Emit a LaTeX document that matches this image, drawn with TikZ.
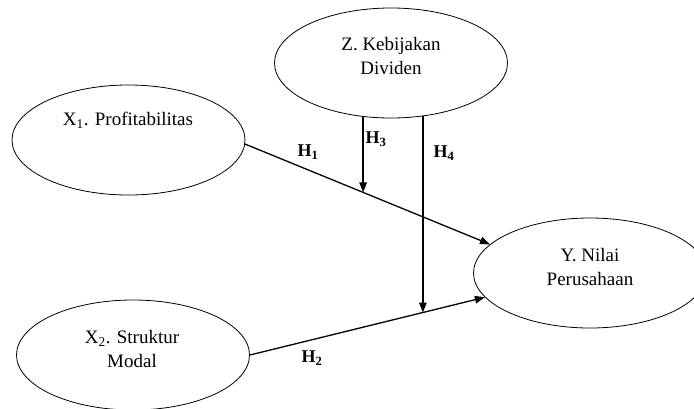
\documentclass[tikz,border=0pt]{standalone}
\usepackage{fontspec}
\setmainfont{Liberation Serif}
\usetikzlibrary{shapes.geometric,arrows.meta,calc}
\begin{document}
\begin{tikzpicture}[x=1pt,y=-1pt,
  ell/.style={draw,ellipse,line width=0.8pt,minimum width=233pt,minimum height=110pt,inner sep=0pt,fill=white},
  txt/.style={font=\fontsize{19}{24}\selectfont,align=center,inner sep=0pt},
  hlab/.style={font=\fontsize{18}{22}\selectfont\bfseries,inner sep=0pt},
  conn/.style={line width=1.3pt,-{Triangle[length=10pt,width=7.5pt]}}]
\useasboundingbox (0,0) rectangle (694,408);
\clip (0,0) rectangle (694,408);
% ellipses
\node[ell] (z) at (391,63) {};
\node[ell] (x1) at (128.5,140) {};
\node[ell] (x2) at (133,355) {};
\node[ell] (y) at (590,273) {};
% texts
\node[txt] (zt) at (391,56) {Z. Kebijakan\\Dividen};
\node[txt] (x1t) at (128,120) {X\textsubscript{1}. Profitabilitas};
\node[txt] (x2t) at (132,349) {X\textsubscript{2}. Struktur\\Modal};
\node[txt] (yt) at (590,267) {Y. Nilai\\Perusahaan};
% main paths
\draw[conn] (x1.-2) -- (y.164);
\draw[conn] (x2.east) -- (y.193);
\coordinate (h3e) at ($(x1.-2)!0.482!(y.164)$);
\coordinate (h4e) at ($(x2.east)!0.736!(y.193)$);
\draw[conn] ($(h3e |- z.south)+(0,-2)$) -- (h3e);
\draw[conn] ($(h4e |- z.south)+(0,-2)$) -- (h4e);
% labels
\node[hlab] (l1) at (308,152) {H\textsubscript{1}};
\node[hlab] (l2) at (312,358) {H\textsubscript{2}};
\node[hlab] (l3) at (376,139) {H\textsubscript{3}};
\node[hlab] (l4) at (444,153) {H\textsubscript{4}};
\end{tikzpicture}
\end{document}
